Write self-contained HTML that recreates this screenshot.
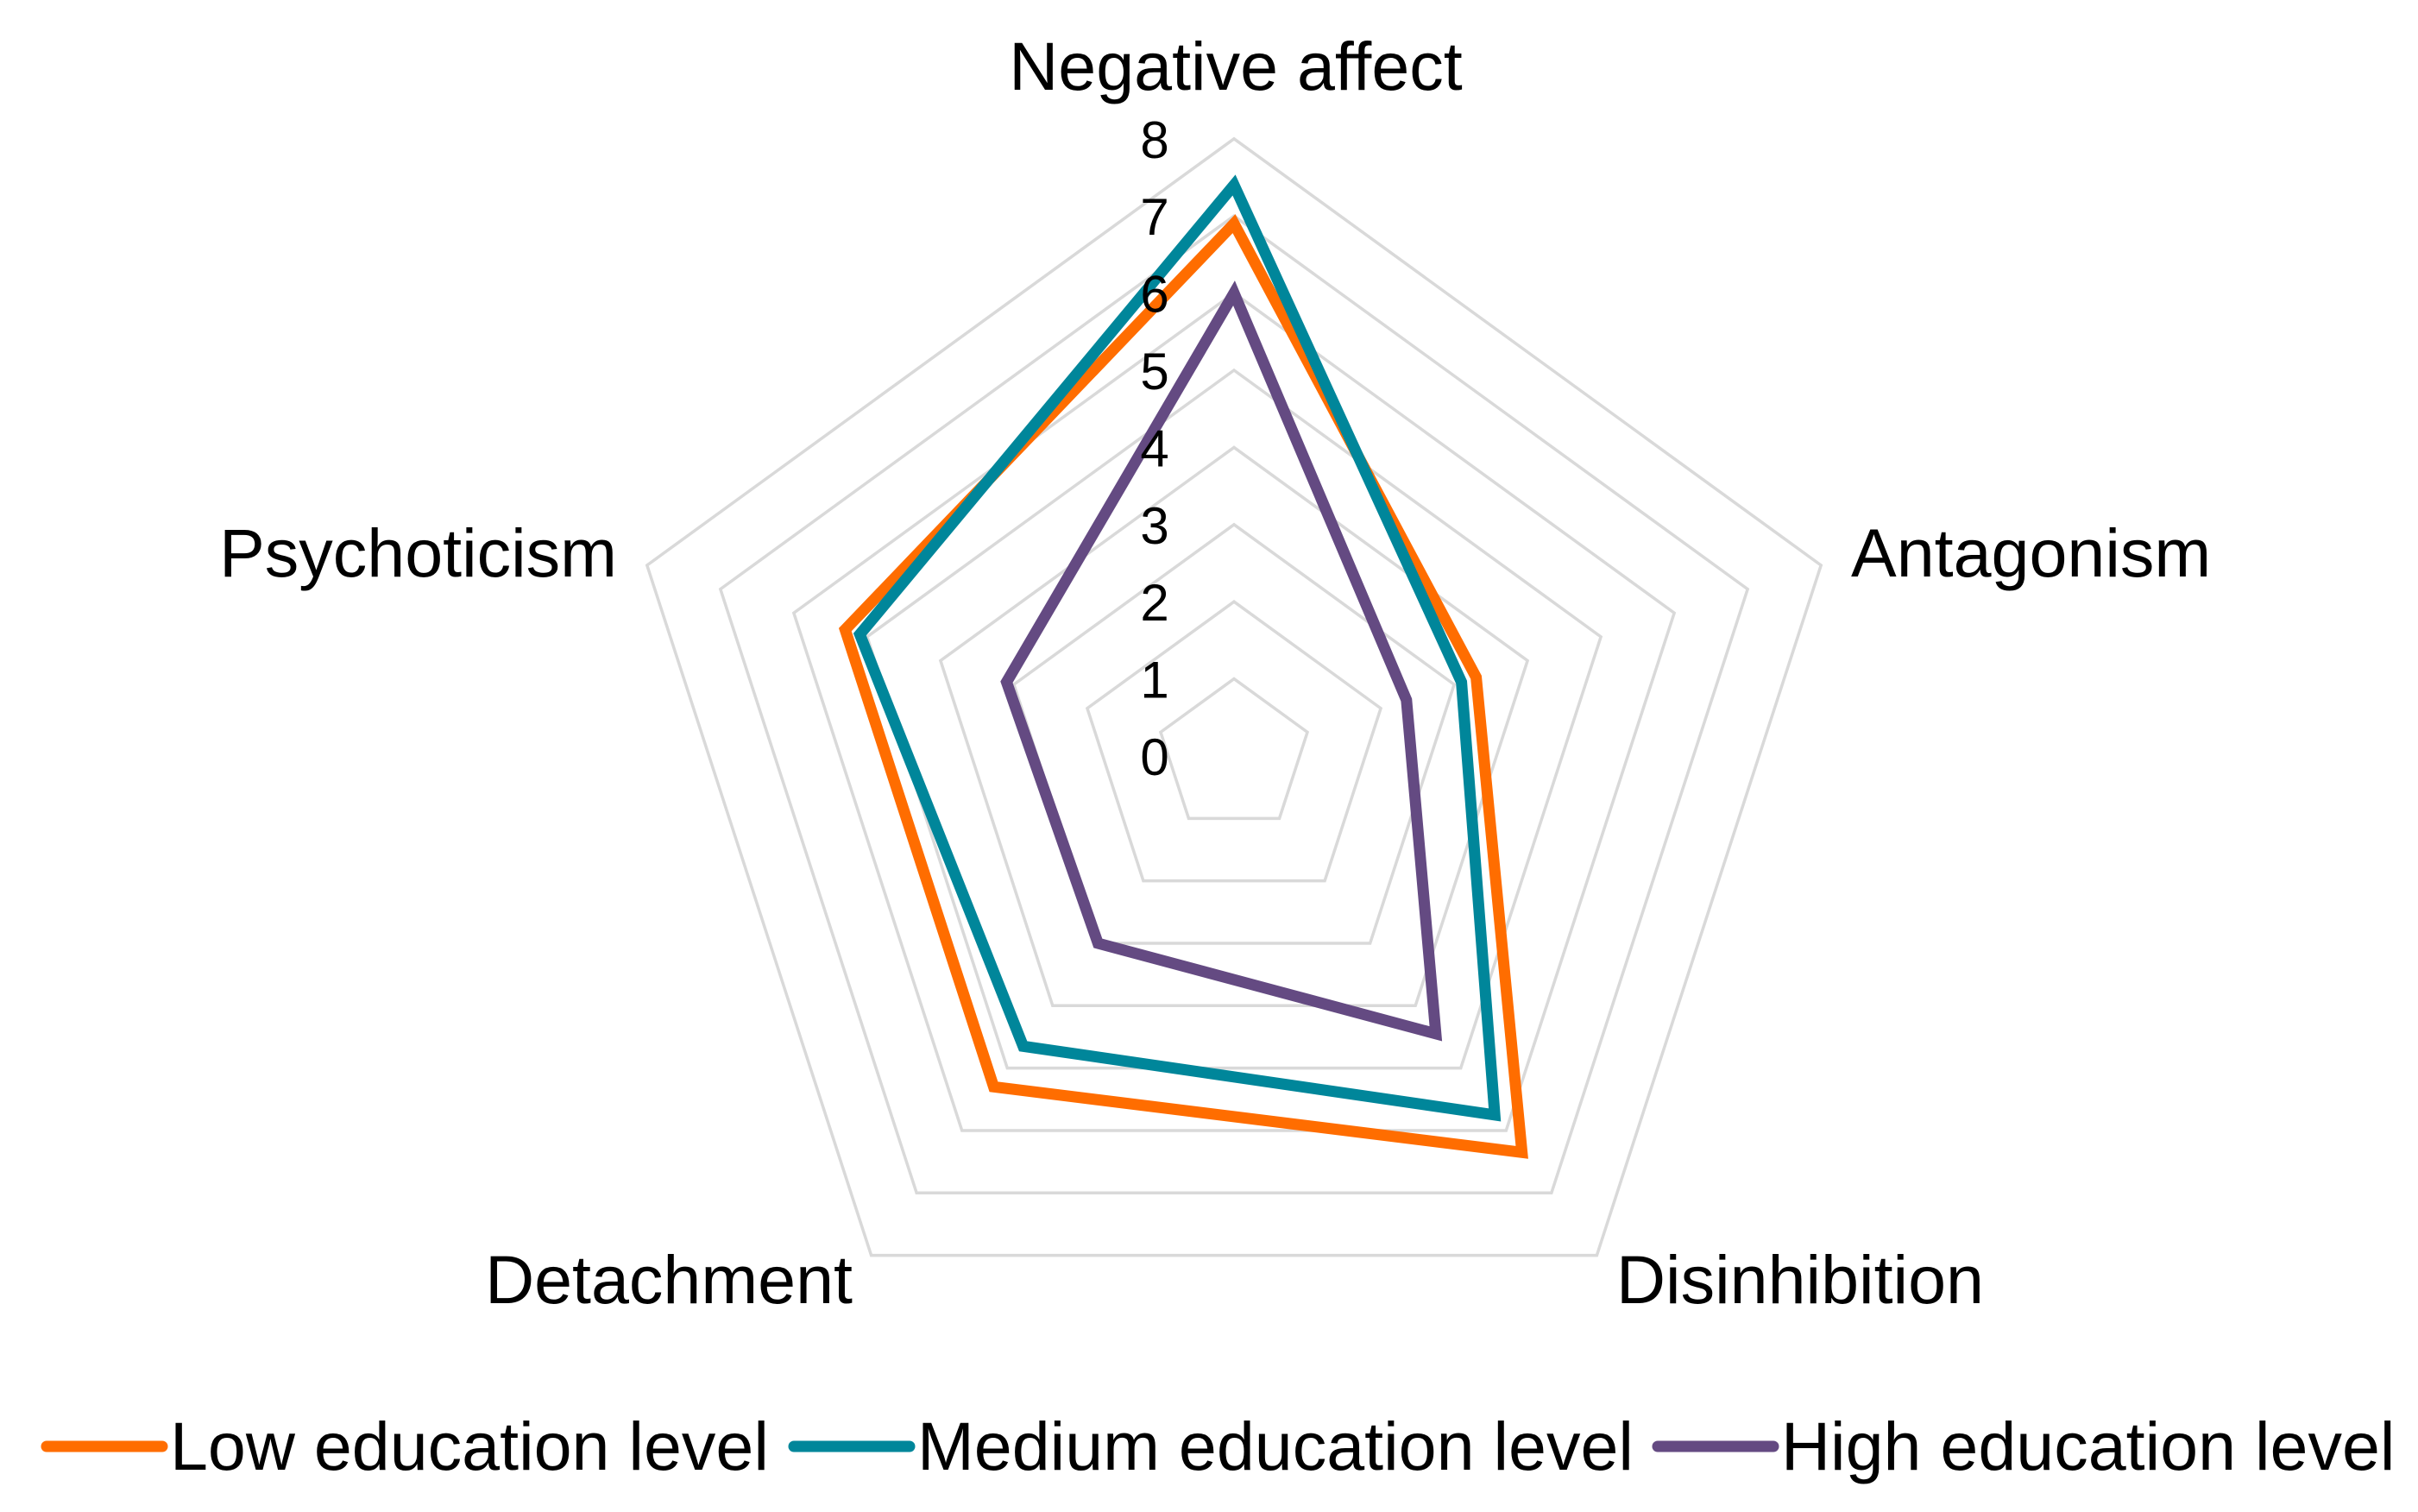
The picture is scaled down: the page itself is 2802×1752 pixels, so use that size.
<!DOCTYPE html>
<html><head><meta charset="utf-8"><style>
html,body{margin:0;padding:0;background:#fff;}
svg{display:block;font-family:"Liberation Sans",Arial,sans-serif;}
</style></head><body>
<svg id="chart" width="2802" height="1752" viewBox="0 0 2802 1752">
<g id="grid"></g>
<g id="series"></g>
<g id="ticks"></g>
<g id="cats"></g>
<g id="legend"></g>
</svg>
<script>
const categories = ["Negative affect","Antagonism","Disinhibition","Detachment","Psychoticism"];
const lowValues = [6.9, 3.3, 6.35, 5.3, 5.3];
const mediumValues = [7.4, 3.1, 5.75, 4.65, 5.1];
const highValues = [6.0, 2.35, 4.45, 3.0, 3.1];
const seriesNames = ["Low education level","Medium education level","High education level"];
const tickLabels = ["0","1","2","3","4","5","6","7","8"];

const NS="http://www.w3.org/2000/svg";
const cx=1430, cy=876, unit=89.4;
function pt(i,v){const a=-Math.PI/2+i*2*Math.PI/5;return [cx+Math.cos(a)*v*unit, cy+Math.sin(a)*v*unit];}
function mk(tag,attrs,parent){const e=document.createElementNS(NS,tag);for(const k in attrs)e.setAttribute(k,attrs[k]);parent.appendChild(e);return e;}
const grid=document.getElementById('grid');
for(let r=1;r<tickLabels.length;r++){
  const pts=categories.map((c,i)=>pt(i,r).join(',')).join(' ');
  const p=mk('polygon',{points:pts,fill:'none',stroke:'#d9d9d9','stroke-width':3.5},grid);
  
  
}
const colors=["#ff6d00","#00869a","#644a82"];
const data=[lowValues,mediumValues,highValues];
const sg=document.getElementById('series');
data.forEach((vals,s)=>{
  const pts=vals.map((v,i)=>pt(i,v).join(',')).join(' ');
  const p=mk('polygon',{points:pts,fill:'none',stroke:colors[s],'stroke-width':13,'stroke-linejoin':'miter'},sg);
  
  
});
const tg=document.getElementById('ticks');
tickLabels.forEach((t,i)=>{
  const e=mk('text',{x:1338,y:cy-i*unit+22,'text-anchor':'middle','font-size':60,fill:'#000'},tg);
  e.textContent=t;
  
  
});
const cg=document.getElementById('cats');
const catPos=[[1432,104,'middle'],[2145,668,'start'],[1873,1510,'start'],[988,1510,'end'],[715,668,'end']];
categories.forEach((c,i)=>{
  const e=mk('text',{x:catPos[i][0],y:catPos[i][1],'text-anchor':catPos[i][2],'font-size':79,fill:'#000'},cg);
  e.textContent=c;
  
  
});
const lg=document.getElementById('legend');
const legX=[[54,197],[920,1063],[1921,2064]];
seriesNames.forEach((n,s)=>{
  const g=mk('g',{},lg);
  
  
  mk('line',{x1:legX[s][0],x2:legX[s][0]+134,y1:1676,y2:1676,stroke:colors[s],'stroke-width':13,'stroke-linecap':'round'},g);
  const t=mk('text',{x:legX[s][1],y:1703,'font-size':79,fill:'#000'},g);
  t.textContent=n;
});
</script>
</body></html>
